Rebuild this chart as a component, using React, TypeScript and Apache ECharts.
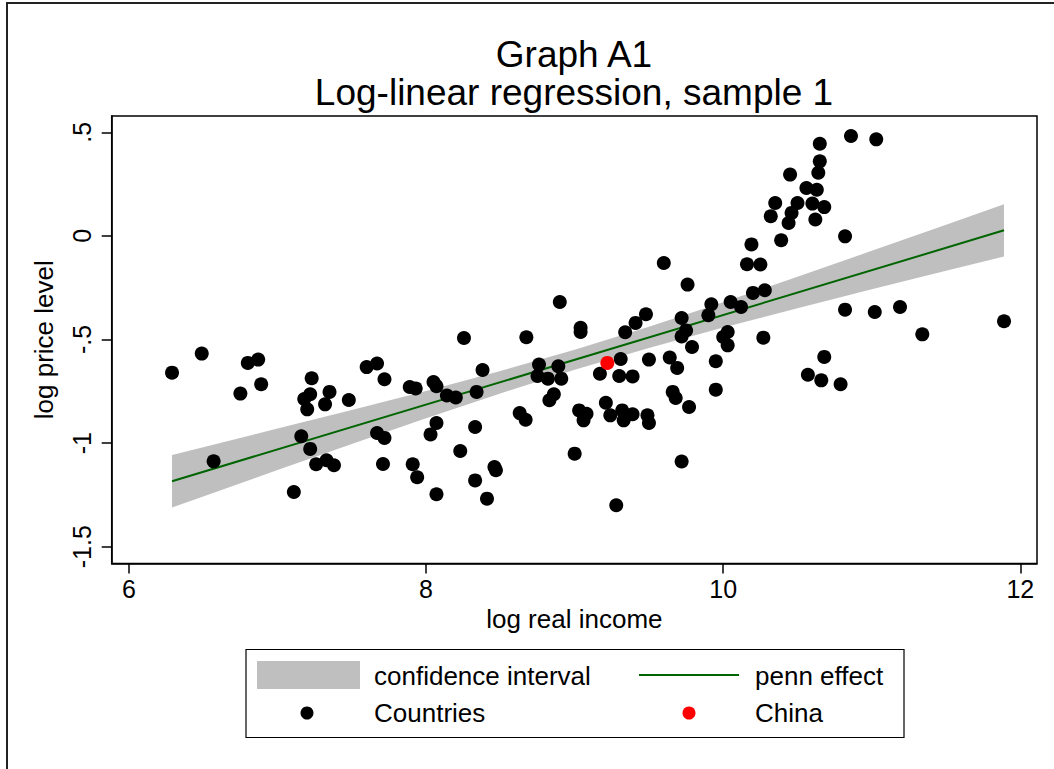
import { useEffect, useRef } from 'react';
import * as echarts from 'echarts';

// log real income / log price level, one pair per country
const countries: [number, number][] = [
  [6.29, -0.66], [6.49, -0.568], [6.8, -0.613], [6.87, -0.597], [6.75, -0.761], [6.89, -0.716],
  [6.57, -1.088], [7.23, -0.687], [7.18, -0.787], [7.22, -0.764], [7.2, -0.837], [7.35, -0.753],
  [7.32, -0.813], [7.48, -0.792], [7.16, -0.967], [7.22, -1.028], [7.26, -1.102], [7.33, -1.083],
  [7.38, -1.107], [7.11, -1.236], [7.6, -0.633], [7.67, -0.616], [7.72, -0.692], [7.67, -0.951],
  [7.72, -0.975], [7.71, -1.101], [7.89, -0.729], [7.93, -0.736], [8.05, -0.705], [8.07, -0.725],
  [8.14, -0.77], [8.2, -0.78], [8.07, -0.903], [8.03, -0.958], [7.91, -1.102], [7.94, -1.165],
  [8.07, -1.247],
  [9.6, -0.131], [9.76, -0.235], [8.9, -0.319], [8.255, -0.493], [8.675, -0.489], [9.04, -0.443],
  [9.04, -0.464], [9.34, -0.465], [9.41, -0.42], [9.48, -0.378], [9.72, -0.396], [9.92, -0.33],
  [9.9, -0.383], [10.05, -0.319], [10.12, -0.343], [9.75, -0.456], [9.72, -0.485], [9.79, -0.536],
  [10.03, -0.464], [10.0, -0.488], [10.03, -0.528], [9.95, -0.605], [9.95, -0.742], [9.5, -0.597],
  [9.64, -0.587], [9.69, -0.637], [9.66, -0.753], [9.68, -0.782], [9.77, -0.826], [9.72, -1.089],
  [9.31, -0.594], [9.17, -0.665], [9.3, -0.676], [9.39, -0.678], [9.21, -0.805], [9.03, -0.842],
  [9.08, -0.858], [9.06, -0.89], [9.24, -0.866], [9.32, -0.842], [9.33, -0.89], [9.39, -0.861],
  [9.49, -0.866], [9.5, -0.903], [9.0, -1.051], [9.28, -1.3], [8.76, -0.621], [8.89, -0.629],
  [8.75, -0.676], [8.82, -0.689], [8.91, -0.689], [8.86, -0.764], [8.83, -0.793], [8.63, -0.855],
  [8.67, -0.887], [8.38, -0.647], [8.34, -0.753], [8.33, -0.922], [8.23, -1.038], [8.46, -1.115],
  [8.47, -1.131], [8.33, -1.18], [8.41, -1.268],
  [10.86, 0.482], [11.03, 0.466], [10.65, 0.445], [10.65, 0.36], [10.64, 0.305], [10.45, 0.296],
  [10.56, 0.231], [10.63, 0.223], [10.35, 0.159], [10.5, 0.159], [10.46, 0.111], [10.6, 0.156],
  [10.68, 0.139], [10.32, 0.095], [10.44, 0.062], [10.62, 0.079], [10.39, -0.021], [10.82, -0.002],
  [10.19, -0.041], [10.16, -0.137], [10.25, -0.138], [10.2, -0.275], [10.28, -0.262], [10.82, -0.356],
  [11.02, -0.367], [11.19, -0.343], [11.34, -0.475], [11.89, -0.412], [10.27, -0.491], [10.68, -0.584],
  [10.57, -0.67], [10.66, -0.697], [10.79, -0.716],
];

const china: [number, number][] = [[9.22, -0.613]];

// fitted penn effect line
const fitX = [6.29, 11.89];
const fitY = [-1.184, 0.027];

const bandX = [6.29, 6.5, 7, 7.5, 8, 8.5, 9, 9.5, 10, 10.5, 11, 11.5, 11.89];
const bandLo = [-1.311, -1.258, -1.13, -1.004, -0.88, -0.76, -0.646, -0.541, -0.442, -0.349, -0.258, -0.168, -0.099];
const bandHi = [-1.057, -1.02, -0.93, -0.84, -0.748, -0.652, -0.55, -0.439, -0.32, -0.197, -0.072, 0.054, 0.153];

const xTicks = [6, 8, 10, 12];
const yTicks = [-1.5, -1, -0.5, 0, 0.5];

const FONT = 'Liberation Sans';

function stataNum(v: number) {
  if (v === 0) return '0';
  const s = String(Math.abs(v)).replace(/^0\./, '.');
  return (v < 0 ? '-' : '') + s;
}

export default function App() {
  const chartRef = useRef<HTMLDivElement>(null);

  useEffect(() => {
    document.body.style.margin = '0';
    if (!chartRef.current) return;
    const chart = echarts.init(chartRef.current, null, { renderer: 'svg' });

    const titleStyle = { fontFamily: FONT, fontSize: 37, fontWeight: 'normal', color: '#000', lineHeight: 37 };
    const legendText = (text: string, x: number, y: number) => ({
      type: 'text',
      style: { text, x, y, fill: '#000', fontSize: 26, fontFamily: FONT, verticalAlign: 'middle', align: 'left' },
    });

    chart.setOption({
      animation: false,
      backgroundColor: '#fff',
      title: [
        { text: 'Graph A1', left: 574, top: 36, padding: 0, textAlign: 'center', textStyle: titleStyle },
        {
          text: 'Log-linear regression, sample 1',
          left: 574,
          top: 73.5,
          padding: 0,
          textAlign: 'center',
          textStyle: titleStyle,
        },
      ],
      grid: {
        left: 111.7,
        right: 17,
        top: 116,
        bottom: 205.5,
        show: true,
        borderColor: '#000',
        borderWidth: 1.5,
        containLabel: false,
      },
      xAxis: {
        type: 'value',
        min: 5.884,
        max: 12.112,
        name: 'log real income',
        nameLocation: 'middle',
        nameGap: 39,
        nameTextStyle: { fontFamily: FONT, fontSize: 26, color: '#000' },
        axisLine: { show: true, onZero: false, lineStyle: { color: '#000', width: 1.5 } },
        axisTick: { show: true, length: 10, customValues: xTicks, lineStyle: { color: '#000', width: 1.5 } },
        axisLabel: { customValues: xTicks, fontFamily: FONT, fontSize: 25, color: '#000', margin: 13 },
        splitLine: { show: false },
      },
      yAxis: {
        type: 'value',
        min: -1.581,
        max: 0.5787,
        name: 'log price level',
        nameLocation: 'middle',
        nameGap: 55,
        nameTextStyle: { fontFamily: FONT, fontSize: 26, color: '#000' },
        axisLine: { show: true, onZero: false, lineStyle: { color: '#000', width: 1.5 } },
        axisTick: { show: true, length: 10, customValues: yTicks, lineStyle: { color: '#000', width: 1.5 } },
        axisLabel: {
          customValues: yTicks,
          rotate: 90,
          fontFamily: FONT,
          fontSize: 25,
          color: '#000',
          margin: 17,
          formatter: (v: number) => stataNum(v),
        },
        splitLine: { show: false },
      },
      series: [
        {
          name: 'confidence interval',
          type: 'custom',
          silent: true,
          z: 1,
          clip: true,
          data: bandX.map((x, i) => [x, bandLo[i], bandHi[i]]),
          encode: { x: 0, y: [1, 2] },
          renderItem: (params: any, api: any) => {
            if (params.dataIndex !== 0) return null;
            const upper = bandX.map((x, i) => api.coord([x, bandHi[i]]));
            const lower = bandX.map((x, i) => api.coord([x, bandLo[i]])).reverse();
            return {
              type: 'polygon',
              shape: { points: upper.concat(lower) },
              style: { fill: '#bfbfbf' },
            };
          },
        },
        {
          name: 'penn effect',
          type: 'line',
          silent: true,
          z: 2,
          symbol: 'none',
          data: fitX.map((x, i) => [x, fitY[i]]),
          lineStyle: { color: '#006400', width: 2 },
        },
        {
          name: 'Countries',
          type: 'scatter',
          z: 3,
          symbolSize: 14,
          data: countries,
          itemStyle: { color: '#000', opacity: 1 },
        },
        {
          name: 'China',
          type: 'scatter',
          z: 4,
          symbolSize: 14,
          data: china,
          itemStyle: { color: '#ff0000', opacity: 1 },
        },
      ],
      graphic: [
        {
          type: 'rect',
          silent: true,
          shape: { x: 7, y: 3, width: 1200, height: 1200 },
          style: { fill: 'none', stroke: '#222', lineWidth: 2 },
        },
        {
          type: 'rect',
          shape: { x: 246, y: 649.5, width: 658, height: 88 },
          style: { fill: '#fff', stroke: '#000', lineWidth: 1.2 },
        },
        { type: 'rect', shape: { x: 257, y: 661, width: 103, height: 28 }, style: { fill: '#bfbfbf' } },
        legendText('confidence interval', 374, 676),
        { type: 'line', shape: { x1: 639, y1: 675, x2: 739, y2: 675 }, style: { stroke: '#006400', lineWidth: 2 } },
        legendText('penn effect', 755, 676),
        { type: 'circle', shape: { cx: 307, cy: 713, r: 6.5 }, style: { fill: '#000' } },
        legendText('Countries', 374, 713),
        { type: 'circle', shape: { cx: 689, cy: 713, r: 6.5 }, style: { fill: '#ff0000' } },
        legendText('China', 755, 713),
      ],
    });

    return () => chart.dispose();
  }, []);

  return <div ref={chartRef} style={{ width: 1054, height: 769 }} />;
}
